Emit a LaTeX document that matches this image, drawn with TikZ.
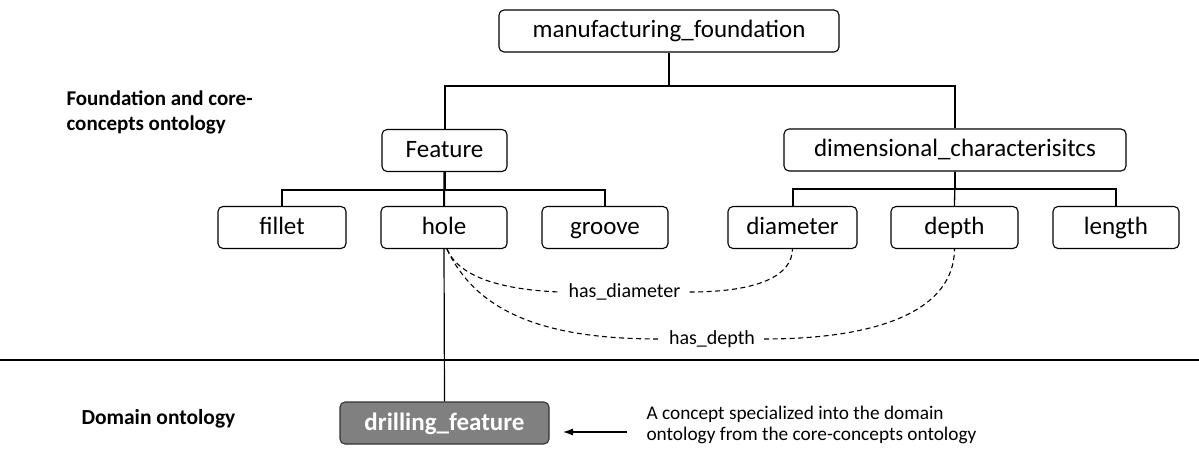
\documentclass[tikz,border=0pt]{standalone}
\usepackage{fontspec}
\setmainfont{Carlito}
\usetikzlibrary{arrows.meta}
\begin{document}
\begin{tikzpicture}[x=1pt,y=-1pt,
  concept/.style={draw=black, line width=1.1pt, rounded corners=5pt, minimum height=42pt,
    inner sep=0pt, font=\fontsize{25}{29}\selectfont, text height=18pt, text depth=4pt},
  small/.style={concept, minimum width=126pt},
  domainbox/.style={concept, fill=black!50, draw=black!80, text=white,
    font=\fontsize{25}{29}\selectfont\bfseries, minimum width=209pt},
  tree/.style={line width=2pt},
  rel/.style={line width=1.1pt, dash pattern=on 5pt off 3.5pt},
  rellabel/.style={font=\fontsize{20}{24}\selectfont, inner xsep=9pt, inner ysep=2pt},
  side/.style={font=\fontsize{21}{25}\selectfont\bfseries, align=left, anchor=west},
]
\useasboundingbox (0,0) rectangle (1199,457);

% nodes
\node[concept, minimum width=340pt] (mf) at (669,31) {manufacturing\_foundation};
\node[concept, minimum width=125pt] (feat) at (444.5,150.5) {Feature};
\node[concept, minimum width=342pt] (dim) at (955,150) {dimensional\_characterisitcs};
\node[small, minimum width=128pt] (fillet) at (282,227.5) {fillet};
\node[small] (hole) at (444,227.5) {hole};
\node[small] (groove) at (605,227.5) {groove};
\node[small, minimum width=129pt] (diam) at (792.5,227.5) {diameter};
\node[small, minimum width=127pt] (depth) at (954.5,227.5) {depth};
\node[small] (length) at (1116,227.5) {length};
\node[domainbox] (drill) at (444.5,423) {drilling\_feature};

% side labels
\node[side] (lab1) at (63,112) {Foundation and core-\\concepts ontology};
\node[side, font=\fontsize{21.5}{25}\selectfont\bfseries] (lab2) at (78,419) {Domain ontology};
\node[font=\fontsize{19.3}{20.5}\selectfont, align=left, anchor=west] (desc) at (643,425)
  {A concept specialized into the domain\\ontology from the core-concepts ontology};

% separator
\coordinate (sepL) at (0,360);
\coordinate (sepR) at (1199,360);
\draw[line width=1.8pt] (sepL) -- (sepR);

% tree connectors
\draw[tree] (mf.south) -- ++(0,33) -| (feat.north);
\draw[tree] (mf.south) ++(0,33) -| (dim.north);
\draw[tree] (feat.south) -- ++(0,17.5) -| (fillet.north);
\draw[tree] (feat.south) ++(0,17.5) -| (groove.north);
\draw[tree] (feat.south) -- (hole.north);
\draw[tree] (dim.south) -- ++(0,17) -| (diam.north);
\draw[tree] (dim.south) ++(0,17) -| (length.north);
\draw[line width=1.3pt] (dim.south) -- (depth.north);

% hole to drilling_feature
\draw[line width=1.2pt] (hole.south) -- (drill.north);

% relations
\node[rellabel] (hasdiam) at (624.5,292) {has\_diameter};
\node[rellabel] (hasdepth) at (712,339) {has\_depth};
\draw[rel] ([xshift=3pt]hole.south) .. controls (460,280) and (510,290) .. (hasdiam.west);
\draw[rel] (hasdiam.east) .. controls (760,292) and (792,275) .. (diam.south);
\draw[rel] ([xshift=3pt]hole.south) .. controls (480,320) and (560,339) .. (hasdepth.west);
\draw[rel] (hasdepth.east) .. controls (880,339) and (954,310) .. (depth.south);

% arrow
\coordinate (arrS) at (627,432);
\coordinate (arrE) at (563,432);
\draw[line width=1.1pt, -{Latex[length=10pt,width=7pt]}] (arrS) -- (arrE);
\end{tikzpicture}
\end{document}
